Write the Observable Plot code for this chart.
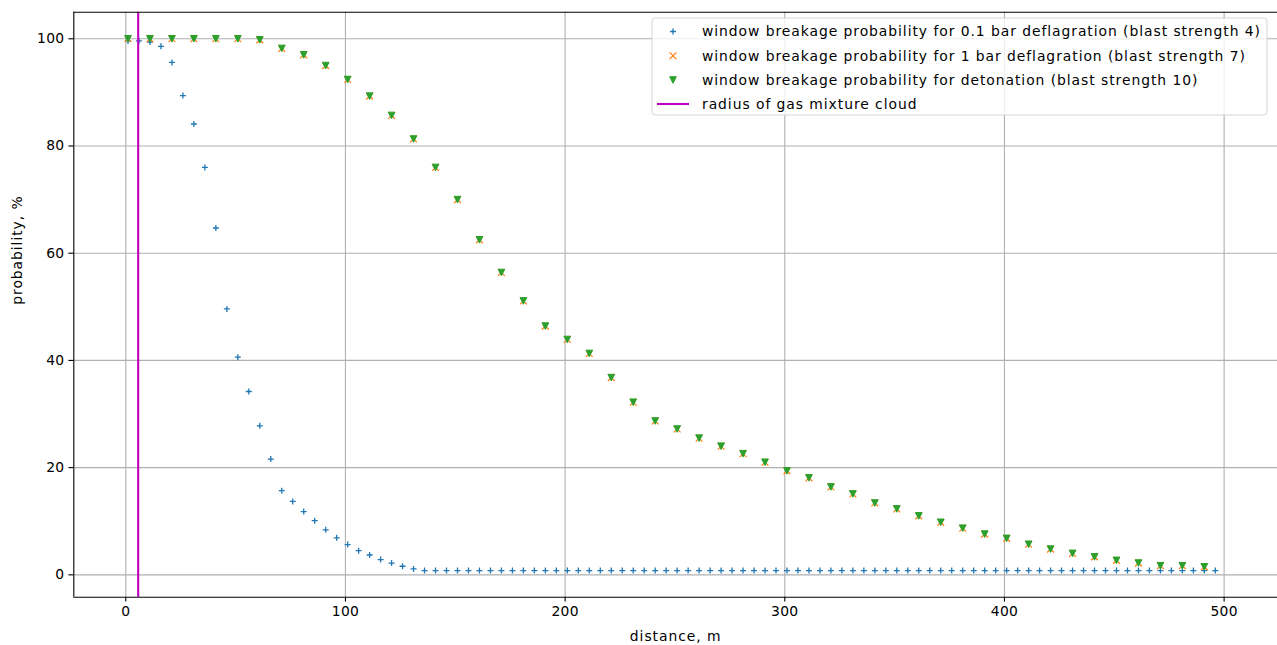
<!DOCTYPE html>
<html>
<head>
<meta charset="utf-8">
<script src="https://cdn.jsdelivr.net/npm/d3@7"></script>
<script src="https://cdn.jsdelivr.net/npm/@observablehq/plot@0.6"></script>
<style>
  html, body { margin: 0; padding: 0; background: #fff; }
  #chart svg { display: block; }
  #chart svg text { letter-spacing: 0.95px; }
  #chart svg g[aria-label="x-axis tick label"] text,
  #chart svg g[aria-label="y-axis tick label"] text { letter-spacing: 0.3px; }
</style>
</head>
<body>
<div id="chart"></div>
<script>
// ---- data ----
const distBlue = [1,6,11,16,21,26,31,36,41,46,51,56,61,66,71,76,81,86,91,96,
  101,106,111,116,121,126,131,136,141,146,151,156,161,166,171,176,181,186,191,196,
  201,206,211,216,221,226,231,236,241,246,251,256,261,266,271,276,281,286,291,296,
  301,306,311,316,321,326,331,336,341,346,351,356,361,366,371,376,381,386,391,396,
  401,406,411,416,421,426,431,436,441,446,451,456,461,466,471,476,481,486,491,496];
const probDefl01 = [99.6,99.6,99.4,98.6,95.6,89.4,84.1,76.0,64.7,49.6,40.6,34.2,27.8,21.6,15.7,13.7,11.8,10.1,8.4,6.9,
  5.65,4.5,3.7,2.85,2.2,1.6,1.1,0.8,0.8,0.8,0.8,0.8,0.8,0.8,0.8,0.8,0.8,0.8,0.8,0.8,
  0.8,0.8,0.8,0.8,0.8,0.8,0.8,0.8,0.8,0.8,0.8,0.8,0.8,0.8,0.8,0.8,0.8,0.8,0.8,0.8,
  0.8,0.8,0.8,0.8,0.8,0.8,0.8,0.8,0.8,0.8,0.8,0.8,0.8,0.8,0.8,0.8,0.8,0.8,0.8,0.8,
  0.8,0.8,0.8,0.8,0.8,0.8,0.8,0.8,0.8,0.8,0.8,0.8,0.8,0.8,0.8,0.8,0.8,0.8,0.8,0.8];
const distOther = [1,11,21,31,41,51,61,71,81,91,101,111,121,131,141,151,161,171,181,191,
  201,211,221,231,241,251,261,271,281,291,301,311,321,331,341,351,361,371,381,391,
  401,411,421,431,441,451,461,471,481,491];
const probDefl1 = [100,100,100,100,100,100,99.8,98.2,97.0,95.0,92.4,89.3,85.7,81.3,76.0,70.0,62.5,56.4,51.1,46.4,
  43.9,41.3,36.8,32.2,28.7,27.2,25.5,24.0,22.6,21.0,19.4,18.1,16.4,15.1,13.4,12.3,11.0,9.8,8.7,7.6,
  6.8,5.7,4.8,4.0,3.35,2.7,2.2,1.7,1.7,1.5];
const probDeton = [100,100,100,100,100,100,99.8,98.2,97.0,95.0,92.4,89.3,85.7,81.3,76.0,70.0,62.5,56.4,51.1,46.4,
  43.9,41.3,36.8,32.2,28.7,27.2,25.5,24.0,22.6,21.0,19.4,18.1,16.4,15.1,13.4,12.3,11.0,9.8,8.7,7.6,
  6.8,5.7,4.8,4.0,3.35,2.7,2.2,1.7,1.7,1.5];
const cloudRadius = [5.64];
const xTicks = [0,100,200,300,400,500];
const yTicks = [0,20,40,60,80,100];
const xDomain = [-23.67, 524.3];
const yDomain = [-4.17, 104.96];
const xLabel = "distance, m";
const yLabel = "probability, %";
const legendLabels = [
  "window breakage probability for 0.1 bar deflagration (blast strength 4)",
  "window breakage probability for 1 bar deflagration (blast strength 7)",
  "window breakage probability for detonation (blast strength 10)",
  "radius of gas mixture cloud"
];
const colors = ["#1f77b4", "#ff7f0e", "#2ca02c", "#bf00bf"];

// ---- tables ----
const blue = distBlue.map((d, i) => ({d, p: probDefl01[i]}));
const orange = distOther.map((d, i) => ({d, p: probDefl1[i]}));
const green = distOther.map((d, i) => ({d, p: probDeton[i]}));

// ---- custom symbols (matplotlib-like) ----
const rad = (size) => Math.sqrt(size / Math.PI);
const plusSym = {draw(c, size) { const r = rad(size); c.moveTo(-r, 0); c.lineTo(r, 0); c.moveTo(0, -r); c.lineTo(0, r); }};
const timesSym = {draw(c, size) { const r = rad(size); c.moveTo(-r, -r); c.lineTo(r, r); c.moveTo(-r, r); c.lineTo(r, -r); }};
const triDownSym = {draw(c, size) { const r = rad(size); c.moveTo(-r, -r); c.lineTo(r, -r); c.lineTo(0, r); c.closePath(); }};

const FONT = "DejaVu Sans, Verdana, sans-serif";
const FS = 13.89;
const R_PLUS = 3, R_TIMES = 3.4, R_TRI = 3.3;

const chart = Plot.plot({
  width: 1277,
  height: 645,
  marginLeft: 73.3,
  marginRight: 0,
  marginTop: 11.7,
  marginBottom: 48.3,
  style: {fontFamily: FONT, fontSize: FS + "px", color: "black", background: "white"},
  x: {type: "linear", domain: xDomain},
  y: {type: "linear", domain: yDomain},
  marks: [
    Plot.gridX({ticks: xTicks, stroke: "#b0b0b0", strokeOpacity: 1, strokeWidth: 1.1}),
    Plot.gridY({ticks: yTicks, stroke: "#b0b0b0", strokeOpacity: 1, strokeWidth: 1.1}),
    Plot.axisX({ticks: xTicks, tickSize: 4.9, tickPadding: 4.4, strokeWidth: 1.1, fontSize: FS, label: null, tickFormat: d => String(d)}),
    Plot.axisY({ticks: yTicks, tickSize: 4.9, tickPadding: 4.4, strokeWidth: 1.1, fontSize: FS, label: null, tickFormat: d => String(d)}),
    Plot.dot(blue, {x: "d", y: "p", symbol: plusSym, r: R_PLUS, stroke: colors[0], fill: "none", strokeWidth: 1.3}),
    Plot.dot(orange, {x: "d", y: "p", symbol: timesSym, r: R_TIMES, stroke: colors[1], fill: "none", strokeWidth: 1.2}),
    Plot.dot(green, {x: "d", y: "p", symbol: triDownSym, r: R_TRI, stroke: colors[2], fill: colors[2], strokeWidth: 1}),
    Plot.ruleX(cloudRadius, {x: d => d, stroke: colors[3], strokeWidth: 2.1}),
    Plot.ruleX([xDomain[0]], {x: d => d, stroke: "black", strokeWidth: 1.1}),
    Plot.ruleY([yDomain[0], yDomain[1]], {y: d => d, stroke: "black", strokeWidth: 1.1}),
    Plot.text([xLabel], {text: d => d, frameAnchor: "bottom", dy: 39.5, fontSize: FS, fill: "black", lineAnchor: "middle"}),
    Plot.text([yLabel], {text: d => d, frameAnchor: "left", dx: -56, rotate: -90, fontSize: FS, fill: "black", lineAnchor: "middle"})
  ]
});

document.getElementById("chart").appendChild(chart);

// ---- legend (matplotlib-style, upper right inside axes) ----
const svg = d3.select(chart);
const lg = svg.append("g").attr("font-family", FONT).attr("font-size", FS).attr("text-anchor", "start");
const boxX = 652, boxY = 18, boxW = 615, boxH = 97;
lg.append("rect").attr("x", boxX).attr("y", boxY).attr("width", boxW).attr("height", boxH)
  .attr("rx", 3).attr("fill", "white").attr("fill-opacity", 0.8)
  .attr("stroke", "#cccccc").attr("stroke-opacity", 0.8).attr("stroke-width", 1);
const rowY = [31.5, 55.8, 80, 104];
const symX = 673, textX = 702;
const symPath = (sym, r) => { const p = d3.path(); sym.draw(p, r * r * Math.PI); return p.toString(); };
lg.append("path").attr("transform", `translate(${symX},${rowY[0]})`).attr("d", symPath(plusSym, R_PLUS))
  .attr("stroke", colors[0]).attr("fill", "none").attr("stroke-width", 1.3);
lg.append("path").attr("transform", `translate(${symX},${rowY[1]})`).attr("d", symPath(timesSym, R_TIMES))
  .attr("stroke", colors[1]).attr("fill", "none").attr("stroke-width", 1.2);
lg.append("path").attr("transform", `translate(${symX},${rowY[2]})`).attr("d", symPath(triDownSym, R_TRI))
  .attr("stroke", colors[2]).attr("fill", colors[2]).attr("stroke-width", 1);
lg.append("line").attr("x1", 657).attr("x2", 689).attr("y1", rowY[3]).attr("y2", rowY[3])
  .attr("stroke", colors[3]).attr("stroke-width", 2.1);
legendLabels.forEach((t, i) => {
  lg.append("text").attr("x", textX).attr("y", rowY[i]).attr("dy", "0.35em")
    .attr("text-anchor", "start").attr("fill", "black").text(t);
});
</script>
</body>
</html>
